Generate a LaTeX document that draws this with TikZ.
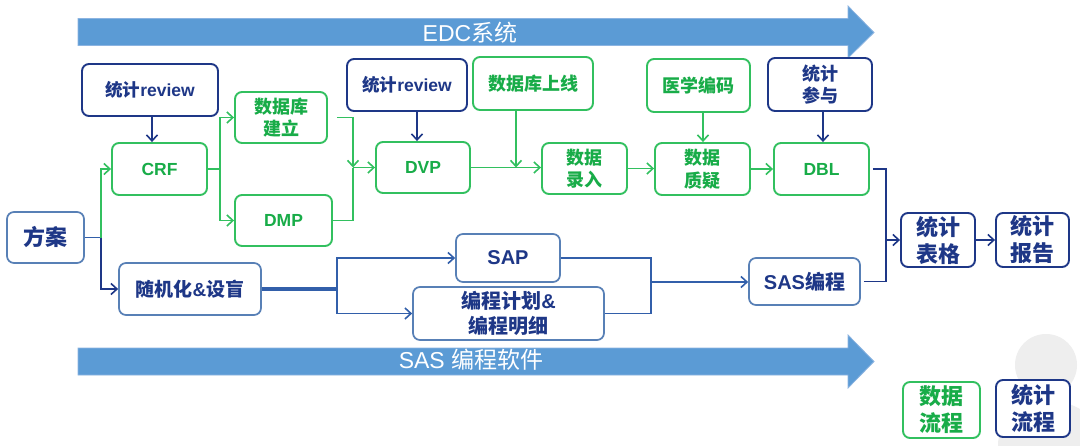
\documentclass[tikz,border=0pt]{standalone}
\usepackage{fontspec}
\setmainfont{Liberation Sans}
\newfontfamily\cjk{Noto Sans CJK SC}
\usetikzlibrary{arrows.meta}
\definecolor{gline}{RGB}{50,192,95}
\definecolor{gtext}{RGB}{24,172,72}
\definecolor{navy}{RGB}{30,55,135}
\definecolor{lblue}{RGB}{88,128,182}
\definecolor{lline}{RGB}{50,95,170}
\definecolor{banner}{RGB}{91,155,213}
\definecolor{banneredge}{RGB}{140,180,225}
\definecolor{wm}{RGB}{238,238,238}
\newcommand\zh[1]{{\cjk #1}}
\tikzset{
 box/.style={rounded corners=7pt, line width=1.9pt, align=center, inner sep=0pt, fill=white},
 gbox/.style={box, draw=gline, text=gtext},
 nbox/.style={box, draw=navy, text=navy},
 lbox/.style={box, draw=lblue, text=navy, line width=1.7pt},
 l17/.style={font=\bfseries\fontsize{17.5}{22}\selectfont},
 l20/.style={font=\bfseries\fontsize{20}{25}\selectfont},
 z18/.style={font=\cjk\bfseries\fontsize{18}{22.5}\selectfont},
 z22/.style={font=\cjk\bfseries\fontsize{22}{27}\selectfont},
 conn/.style={line width=1.8pt},
 gc/.style={conn, draw=gline},
 nc/.style={conn, draw=navy},
 lc/.style={conn, draw=lline},
 arr/.style={-{Straight Barb[length=6pt,width=11pt,line width=1.6pt]}},
 bannertext/.style={text=white, font=\fontsize{23}{23}\selectfont},
}
\begin{document}
\begin{tikzpicture}[x=1pt,y=-1pt]
\useasboundingbox (0,0) rectangle (1080,445);
\fill[white] (0,0) rectangle (1080,445);
% watermark
\begin{scope}
\clip (0,0) rectangle (1080,445);
\fill[wm] (1046,365) circle (31);
\fill[wm] (1050,445) ellipse (52 and 44);
\end{scope}
% banners
\draw[banneredge, fill=banner, line width=0.8pt] (78,18.5) -- (848,18.5) -- (848,6) -- (874,32.5) -- (848,58) -- (848,45.5) -- (78,45.5) -- cycle;
\node[bannertext] (edc) at (470,33) {EDC\zh{系统}};
\draw[banneredge, fill=banner, line width=0.8pt] (78,348) -- (848,348) -- (848,335) -- (874,361.5) -- (848,388) -- (848,375) -- (78,375) -- cycle;
\node[bannertext] (sasw) at (471,360) {SAS \zh{编程软件}};
% nodes
\node[nbox, l17, minimum width=136pt, minimum height=52pt] (rev1) at (150,90) {\zh{统计}review};
\node[gbox, l17, minimum width=95pt, minimum height=52pt] (crf) at (159.5,169) {CRF};
\node[gbox, z18, minimum width=92pt, minimum height=51pt] (db) at (281,117.5) {数据库\\建立};
\node[gbox, l17, minimum width=97pt, minimum height=51pt] (dmp) at (283.5,220.5) {DMP};
\node[lbox, z22, minimum width=77pt, minimum height=51pt] (fa) at (45.5,237.5) {方案};
\node[lbox, font=\bfseries\fontsize{19}{24}\selectfont, minimum width=142pt, minimum height=52pt] (sj) at (190,289) {\zh{随机化}\&\zh{设盲}};
\node[nbox, l17, minimum width=120pt, minimum height=52pt] (rev2) at (407,85) {\zh{统计}review};
\node[gbox, z18, minimum width=120pt, minimum height=53pt] (sx) at (533,83.5) {数据库上线};
\node[gbox, l17, minimum width=94pt, minimum height=51pt] (dvp) at (423,167.5) {DVP};
\node[gbox, z18, minimum width=85pt, minimum height=51pt] (lr) at (584.5,168.5) {数据\\录入};
\node[gbox, z18, minimum width=95pt, minimum height=52pt] (zy) at (702.5,169) {数据\\质疑};
\node[gbox, z18, minimum width=103pt, minimum height=53pt] (yx) at (698.5,85.5) {医学编码};
\node[gbox, l17, minimum width=95pt, minimum height=52pt] (dbl) at (821.5,169) {DBL};
\node[nbox, z18, minimum width=104pt, minimum height=53pt] (cy) at (820,84.5) {统计\\参与};
\node[lbox, l20, minimum width=104pt, minimum height=48pt] (sap) at (508,258) {SAP};
\node[lbox, l20, minimum width=191pt, minimum height=53pt] (bc) at (508.5,313.5) {\zh{编程计划}\&\\\zh{编程明细}};
\node[lbox, l20, minimum width=111pt, minimum height=47pt] (sas) at (804.5,281.5) {SAS\zh{编程}};
\node[nbox, z22, minimum width=74pt, minimum height=54pt] (tb) at (938,240) {统计\\表格};
\node[nbox, z22, minimum width=73pt, minimum height=54pt] (bg) at (1032.5,240) {统计\\报告};
\node[gbox, z22, minimum width=77pt, minimum height=56pt] (lg1) at (941.5,410) {数据\\流程};
\node[nbox, z22, minimum width=74pt, minimum height=57pt] (lg2) at (1033,408.5) {统计\\流程};
% junctions
\coordinate (j1) at (101,237.5);
\coordinate (j2) at (220,169);
\coordinate (j3) at (353,167.5);
\coordinate (j5) at (886,240);
\coordinate (j6) at (337,289);
\coordinate (j7) at (651,282);
% connectors
\draw[nc, arr] (rev1.south -| 152,0) -- (crf.north -| 152,0);
\draw[lc] (fa.east) -- (j1);
\draw[gc, arr] (j1) |- (crf.west);
\draw[nc, arr] (j1) |- (sj.west);
\draw[gc] (crf.east) -- (j2);
\draw[gc, arr] (j2) |- (db.west);
\draw[gc, arr] (j2) |- (dmp.west);
\draw[gc, arr, shorten <=9pt] (db.east) -| (j3);
\draw[gc] (dmp.east) -| (j3);
\draw[gc, arr] (j3) -- (dvp.west);
\draw[nc, arr] (rev2.south -| 417,0) -- (dvp.north -| 417,0);
\draw[gc, arr] (dvp.east) -- (dvp.east -| lr.west);
\draw[gc, arr] (sx.south -| 516,0) -- (dvp.east -| 516,0);
\draw[gc, arr] (lr.east) -- (lr.east -| zy.west);
\draw[gc, arr] (yx.south -| 703,0) -- (zy.north -| 703,0);
\draw[gc, arr] (zy.east) -- (dbl.west);
\draw[nc, arr] (cy.south -| 823,0) -- (dbl.north -| 823,0);
\draw[nc, shorten <=3pt] (dbl.east) -| (j5);
\draw[nc, shorten <=3pt] (sas.east) -| (j5);
\draw[nc, arr] (j5) -- (tb.west);
\draw[nc, arr] (tb.east) -- (tb.east -| bg.west);
\draw[lc, line width=3.2pt] (sj.east) -- (j6);
\draw[lc, arr] (j6) |- (sap.west);
\draw[lc, arr] (j6) |- (bc.west);
\draw[lc] (sap.east) -| (j7);
\draw[lc] (bc.east) -| (j7);
\draw[lc, arr] (j7) -- (j7 -| sas.west);
\end{tikzpicture}
\end{document}
